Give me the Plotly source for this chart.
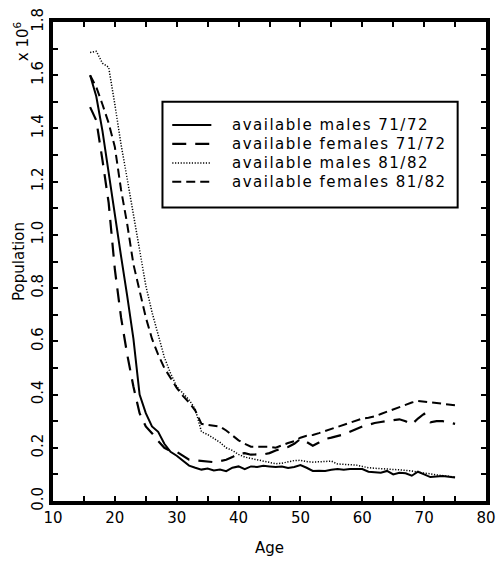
import plotly.graph_objects as go

# Age in years (one value per single year of age)
ages = list(range(16, 76))

# Available population (millions) by age
males_71_72 = [
    1.60, 1.52, 1.39, 1.23, 1.08, 0.92, 0.77, 0.61, 0.40, 0.33,
    0.28, 0.26, 0.215, 0.185, 0.17, 0.15, 0.133, 0.125, 0.118, 0.122,
    0.115, 0.118, 0.112, 0.125, 0.13, 0.12, 0.13, 0.128, 0.132, 0.13,
    0.128, 0.13, 0.124, 0.128, 0.135, 0.125, 0.113, 0.114, 0.113, 0.117,
    0.12, 0.117, 0.12, 0.12, 0.12, 0.11, 0.108, 0.106, 0.113, 0.10,
    0.106, 0.104, 0.095, 0.11, 0.10, 0.09, 0.092, 0.094, 0.091, 0.088,
]
females_71_72 = [
    1.48, 1.43, 1.28, 1.12, 0.87, 0.69, 0.55, 0.43, 0.33, 0.28,
    0.255, 0.225, 0.20, 0.188, 0.185, 0.17, 0.155, 0.153, 0.15, 0.148,
    0.146, 0.15, 0.155, 0.165, 0.178, 0.18, 0.174, 0.175, 0.175, 0.18,
    0.19, 0.196, 0.203, 0.215, 0.233, 0.222, 0.208, 0.22, 0.233, 0.238,
    0.245, 0.25, 0.26, 0.27, 0.28, 0.286, 0.293, 0.297, 0.30, 0.303,
    0.307, 0.30, 0.288, 0.31, 0.328, 0.296, 0.30, 0.30, 0.295, 0.29,
]
males_81_82 = [
    1.685, 1.69, 1.645, 1.63, 1.49, 1.34, 1.21, 1.08, 0.95, 0.81,
    0.71, 0.62, 0.54, 0.48, 0.43, 0.405, 0.38, 0.345, 0.26, 0.25,
    0.235, 0.22, 0.20, 0.19, 0.175, 0.165, 0.16, 0.155, 0.15, 0.145,
    0.14, 0.142, 0.146, 0.152, 0.153, 0.148, 0.146, 0.148, 0.15, 0.15,
    0.139, 0.138, 0.136, 0.135, 0.13, 0.125, 0.123, 0.122, 0.12, 0.12,
    0.117, 0.115, 0.113, 0.108, 0.106, 0.102, 0.098, 0.095, 0.092, 0.09,
]
females_81_82 = [
    1.60, 1.555, 1.49, 1.42, 1.33, 1.17, 1.04, 0.89, 0.79, 0.69,
    0.61, 0.55, 0.50, 0.46, 0.425, 0.395, 0.37, 0.34, 0.29, 0.286,
    0.283, 0.28, 0.265, 0.245, 0.228, 0.215, 0.204, 0.204, 0.204, 0.204,
    0.20, 0.21, 0.218, 0.225, 0.238, 0.245, 0.248, 0.255, 0.263, 0.27,
    0.28, 0.288, 0.296, 0.302, 0.31, 0.313, 0.318, 0.327, 0.336, 0.345,
    0.354, 0.362, 0.37, 0.376, 0.373, 0.37, 0.368, 0.365, 0.362, 0.36,
]

series_names = [
    "available males 71/72",
    "available females 71/72",
    "available males 81/82",
    "available females 81/82",
]

FONT = "DejaVu Sans"
W, H = 504, 563
MARGIN = dict(l=53, r=8, t=16, b=54)
PLOT_W = W - MARGIN["l"] - MARGIN["r"]
PLOT_H = H - MARGIN["t"] - MARGIN["b"]


def px_x(px):
    """Horizontal pixel position -> paper fraction."""
    return (px - MARGIN["l"]) / PLOT_W


def px_y(py):
    """Vertical pixel position (from top) -> paper fraction."""
    return (H - MARGIN["b"] - py) / PLOT_H


styles = [
    dict(color="black", width=2, dash="solid"),
    dict(color="black", width=2.2, dash="14px,9px"),
    dict(color="black", width=1.5, dash="1.2px,1.6px"),
    dict(color="black", width=2, dash="9px,5px"),
]

fig = go.Figure()
for name, values, line in zip(
    series_names, [males_71_72, females_71_72, males_81_82, females_81_82], styles
):
    fig.add_trace(go.Scatter(x=ages, y=values, mode="lines", name=name, line=line))

axis_common = dict(
    showline=True,
    linecolor="black",
    linewidth=4,
    mirror="ticks",
    ticks="inside",
    ticklen=5,
    tickwidth=1.5,
    tickcolor="black",
    showgrid=False,
    zeroline=False,
    tickfont=dict(family=FONT, size=15, color="black"),
)

fig.update_layout(
    width=W,
    height=H,
    margin=MARGIN,
    plot_bgcolor="white",
    paper_bgcolor="white",
    font=dict(family=FONT, color="black"),
    showlegend=False,
    xaxis=dict(
        range=[10, 80],
        dtick=10,
        minor=dict(dtick=5, ticks="inside", ticklen=5, tickwidth=1.5, tickcolor="black"),
        title=dict(text="Age", font=dict(family=FONT, size=15), standoff=17),
        ticklabelstandoff=0,
        **axis_common,
    ),
    yaxis=dict(
        range=[0, 1.8],
        dtick=0.2,
        tickformat=".1f",
        tickangle=-90,
        minor=dict(dtick=0.1, ticks="inside", ticklen=5, tickwidth=1.5, tickcolor="black"),
        title=dict(text="Population", font=dict(family=FONT, size=15), standoff=2),
        ticklabelstandoff=0,
        **axis_common,
    ),
)

# Legend panel: framed box with a line sample and label per series
box_left, box_right, box_top, box_bottom = 165, 467, 98, 207
fig.add_shape(
    type="rect",
    xref="paper", yref="paper",
    x0=px_x(box_left), x1=px_x(box_right),
    y0=px_y(box_bottom), y1=px_y(box_top),
    line=dict(color="black", width=2),
    fillcolor="white",
    layer="above",
)
row_y = [122, 141.5, 161, 180.5]
for name, line, ry in zip(series_names, styles, row_y):
    fig.add_shape(
        type="line",
        xref="paper", yref="paper",
        x0=px_x(175), x1=px_x(215),
        y0=px_y(ry), y1=px_y(ry),
        line=line,
        layer="above",
    )
    fig.add_annotation(
        text=f'<span style="letter-spacing:1.5px">{name}</span>',
        xref="paper", yref="paper",
        x=px_x(234), y=px_y(ry),
        xanchor="left", yanchor="middle",
        showarrow=False,
        font=dict(family=FONT, size=15, color="black"),
    )

fig.add_annotation(
    text="x 10<sup>6</sup>",
    xref="paper", yref="paper",
    x=px_x(21), y=px_y(36),
    xanchor="center", yanchor="middle",
    textangle=-90,
    showarrow=False,
    font=dict(family=FONT, size=15, color="black"),
)

fig.write_html("out.html")
